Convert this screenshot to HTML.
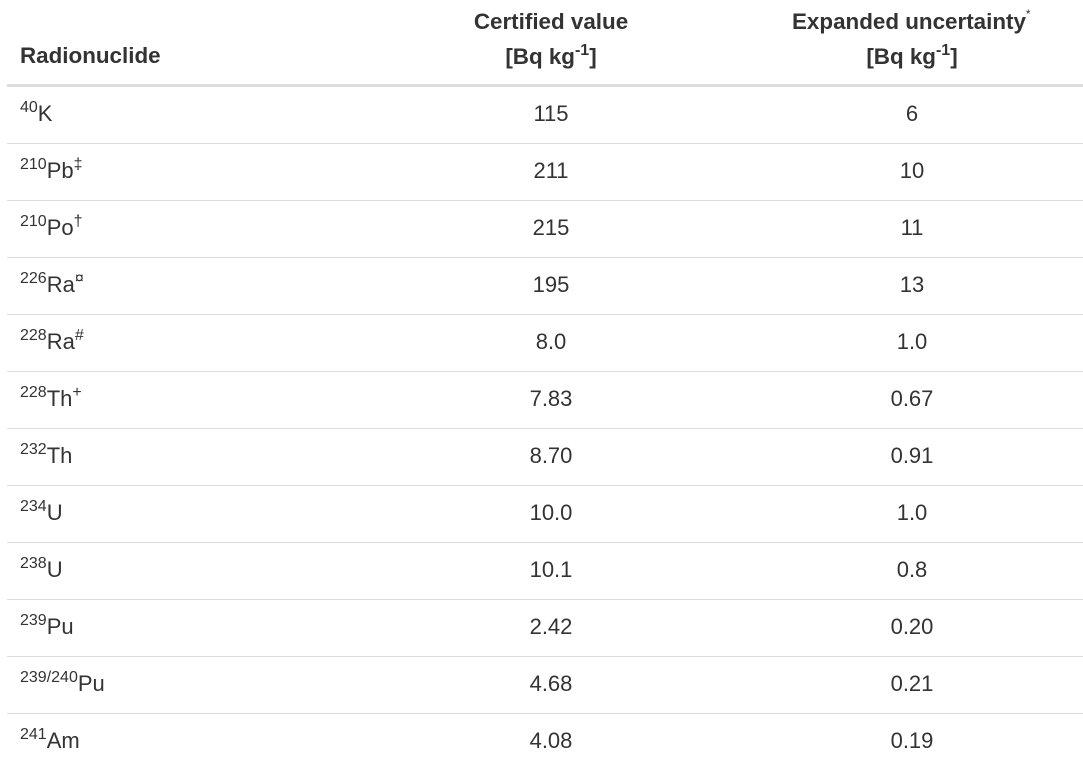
<!DOCTYPE html>
<html><head><style>
body{margin:0;width:1083px;height:768px;background:#fff;font-family:"Liberation Sans",Arial,sans-serif;color:#333;overflow:hidden;position:relative}
.h{position:absolute;font-weight:bold;font-size:22.4px;line-height:26px;white-space:nowrap}
.line{position:absolute;left:7px;width:1076px;height:1px;background:#ddd}
.c{position:absolute;font-size:22px;line-height:24px;white-space:nowrap}
.c1{left:20px}
.c2{left:451px;width:200px;text-align:center}
.c3{left:812px;width:200px;text-align:center}
sup{font-size:16px;line-height:0;vertical-align:0;position:relative;top:-9px}
</style></head><body>
<div class="h" style="left:20px;top:43px">Radionuclide</div>
<div class="h" style="left:451px;width:200px;text-align:center;top:9px">Certified value</div>
<div class="h" style="left:451px;width:200px;text-align:center;top:44px">[Bq kg<sup>-1</sup>]</div>
<div class="h" style="left:792px;top:9px">Expanded uncertainty<sup style="font-size:12px;font-weight:normal;top:-11px">*</sup></div>
<div class="h" style="left:812px;width:200px;text-align:center;top:44px">[Bq kg<sup>-1</sup>]</div>
<div style="position:absolute;left:7px;top:84px;width:1076px;height:3px;background:#ddd"></div>
<div class="line" style="top:143px"></div>
<div class="line" style="top:200px"></div>
<div class="line" style="top:257px"></div>
<div class="line" style="top:314px"></div>
<div class="line" style="top:371px"></div>
<div class="line" style="top:428px"></div>
<div class="line" style="top:485px"></div>
<div class="line" style="top:542px"></div>
<div class="line" style="top:599px"></div>
<div class="line" style="top:656px"></div>
<div class="line" style="top:713px"></div>

<div class="c c1" style="top:102px"><sup>40</sup>K</div><div class="c c2" style="top:102px">115</div><div class="c c3" style="top:102px">6</div>
<div class="c c1" style="top:159px"><sup>210</sup>Pb<sup>‡</sup></div><div class="c c2" style="top:159px">211</div><div class="c c3" style="top:159px">10</div>
<div class="c c1" style="top:216px"><sup>210</sup>Po<sup>†</sup></div><div class="c c2" style="top:216px">215</div><div class="c c3" style="top:216px">11</div>
<div class="c c1" style="top:273px"><sup>226</sup>Ra<sup>¤</sup></div><div class="c c2" style="top:273px">195</div><div class="c c3" style="top:273px">13</div>
<div class="c c1" style="top:330px"><sup>228</sup>Ra<sup>#</sup></div><div class="c c2" style="top:330px">8.0</div><div class="c c3" style="top:330px">1.0</div>
<div class="c c1" style="top:387px"><sup>228</sup>Th<sup>+</sup></div><div class="c c2" style="top:387px">7.83</div><div class="c c3" style="top:387px">0.67</div>
<div class="c c1" style="top:444px"><sup>232</sup>Th</div><div class="c c2" style="top:444px">8.70</div><div class="c c3" style="top:444px">0.91</div>
<div class="c c1" style="top:501px"><sup>234</sup>U</div><div class="c c2" style="top:501px">10.0</div><div class="c c3" style="top:501px">1.0</div>
<div class="c c1" style="top:558px"><sup>238</sup>U</div><div class="c c2" style="top:558px">10.1</div><div class="c c3" style="top:558px">0.8</div>
<div class="c c1" style="top:615px"><sup>239</sup>Pu</div><div class="c c2" style="top:615px">2.42</div><div class="c c3" style="top:615px">0.20</div>
<div class="c c1" style="top:672px"><sup>239/240</sup>Pu</div><div class="c c2" style="top:672px">4.68</div><div class="c c3" style="top:672px">0.21</div>
<div class="c c1" style="top:729px"><sup>241</sup>Am</div><div class="c c2" style="top:729px">4.08</div><div class="c c3" style="top:729px">0.19</div>
</body></html>
